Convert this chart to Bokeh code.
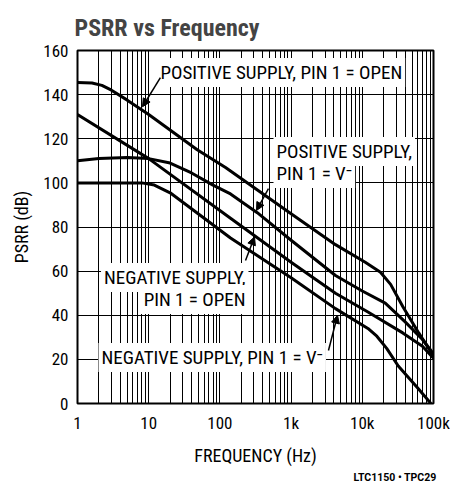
from bokeh.plotting import figure
from bokeh.models import FixedTicker, Label, Arrow, NormalHead, Range1d, Title
from bokeh.embed import file_html
from bokeh.resources import INLINE

# ---- data ----
freq_pos_open = [1, 1.6, 2.2, 3, 5, 10, 48, 120, 1000, 4200, 11000, 18000, 25000, 37000, 62000, 100000]
psrr_pos_open = [145.5, 145.3, 144.2, 142, 137.5, 131, 115, 107, 86, 72, 64, 59.5, 54, 44, 32, 21.5]

freq_pos_vneg = [1, 2, 5, 10, 20, 40, 80, 141, 335, 1000, 4200, 10000, 21000, 40000, 70000, 100000]
psrr_pos_vneg = [110, 111, 111.5, 111, 109, 104.5, 99, 95, 86.5, 74, 58, 51, 45.5, 37, 29, 22.5]

freq_neg_open = [1, 10, 141, 1000, 4200, 12000, 37000, 70000, 100000]
psrr_neg_open = [131, 111, 84, 64, 50, 41.5, 32, 26, 20.5]

freq_neg_vneg = [1, 8, 12, 20, 141, 1000, 4200, 12000, 16000, 22000, 32000, 60000, 92000]
psrr_neg_vneg = [100, 100, 99, 95.5, 75, 57, 43, 34, 30.5, 25, 17, 7, 0]

decades = [1, 10, 100, 1000, 10000, 100000]
decade_labels = ["1", "10", "100", "1k", "10k", "100k"]
minor_mantissas = [2, 3, 4, 5, 6, 7, 8, 9]
psrr_ticks = [0, 20, 40, 60, 80, 100, 120, 140, 160]

# annotation texts and anchor positions (data units)
label_texts = ["POSITIVE SUPPLY, PIN 1 = OPEN", "POSITIVE SUPPLY,", "PIN 1 = V\u207b",
               "NEGATIVE SUPPLY,", "PIN 1 = OPEN", "NEGATIVE SUPPLY, PIN 1 = V\u207b"]
label_x = [13.3, 566, 566, 252, 252, 1.97]
label_y = [150, 114.2, 104.2, 57.1, 47.1, 20.8]
label_align = ["left", "left", "left", "right", "right", "left"]

arrow_x0 = [14.6, 481, 229, 3350]
arrow_y0 = [147.7, 97.4, 64.8, 24]
arrow_x1 = [8.18, 327, 306, 4485]
arrow_y1 = [134.5, 87.5, 75.5, 40]

FONT = "Roboto Condensed"

p = figure(width=450, height=487, x_axis_type="log",
           x_range=Range1d(1, 100000), y_range=Range1d(0, 160),
           output_backend="svg", toolbar_location=None,
           min_border_left=77, min_border_right=17,
           min_border_top=50, min_border_bottom=84)

p.background_fill_color = "white"
p.border_fill_color = "white"
p.outline_line_color = "black"
p.outline_line_width = 2

# title
p.title.text = "PSRR vs Frequency"
p.title.text_font = FONT
p.title.text_font_size = "24px"
p.title.text_font_style = "bold"
p.title.align = "left"
p.title.offset = -3
p.title.standoff = 18

# x axis
xt = FixedTicker(ticks=decades,
                 minor_ticks=[m * d for d in decades[:-1] for m in minor_mantissas])
p.xaxis.ticker = xt
p.xaxis.major_label_overrides = {float(d): lab for d, lab in zip(decades, decade_labels)}
p.xaxis.axis_label = "FREQUENCY (Hz)"
p.yaxis.ticker = FixedTicker(ticks=psrr_ticks)
p.yaxis.axis_label = "PSRR (dB)"

for ax in (p.xaxis, p.yaxis):
    ax.axis_line_color = None
    ax.major_tick_line_color = None
    ax.minor_tick_line_color = None
    ax.major_tick_out = 0
    ax.major_tick_in = 0
    ax.minor_tick_out = 0
    ax.minor_tick_in = 0
    ax.major_label_text_font = FONT
    ax.major_label_text_font_size = "17px"
    ax.major_label_text_color = "black"
    ax.axis_label_text_font = FONT
    ax.axis_label_text_font_size = "18px"
    ax.axis_label_text_font_style = "normal"
    ax.axis_label_text_color = "black"

p.xaxis.major_label_standoff = 9
p.xaxis.axis_label_standoff = 9
p.yaxis.major_label_standoff = 9
p.yaxis.axis_label_standoff = 8

# footer note below the axis
foot = Title(text="LTC1150 \u2022 TPC29", align="right", offset=-3, standoff=0,
             text_font="Roboto", text_font_size="10.5px", text_font_style="bold",
             text_color="black")
p.add_layout(foot, "below")

# grid
p.xgrid.ticker = xt
p.xgrid.grid_line_color = "black"
p.xgrid.grid_line_width = 1
p.xgrid.minor_grid_line_color = "black"
p.xgrid.minor_grid_line_width = 1
p.ygrid.grid_line_color = "black"
p.ygrid.grid_line_width = 1.2

# curves
for fx, vy in [(freq_pos_open, psrr_pos_open), (freq_pos_vneg, psrr_pos_vneg),
               (freq_neg_open, psrr_neg_open), (freq_neg_vneg, psrr_neg_vneg)]:
    p.line(fx, vy, line_color="black", line_width=3, line_join="round")

# labels
for t, lx, ly, al in zip(label_texts, label_x, label_y, label_align):
    p.add_layout(Label(x=lx, y=ly, text=t, text_align=al, text_baseline="middle",
                       text_font=FONT, text_font_size="19px", text_color="black",
                       background_fill_color="white", padding=3))

for x0, y0, x1, y1 in zip(arrow_x0, arrow_y0, arrow_x1, arrow_y1):
    p.add_layout(Arrow(x_start=x0, y_start=y0, x_end=x1, y_end=y1,
                       line_color="black", line_width=1.5,
                       end=NormalHead(size=8, fill_color="black", line_color="black")))

open("out.html", "w").write(file_html(p, INLINE))
